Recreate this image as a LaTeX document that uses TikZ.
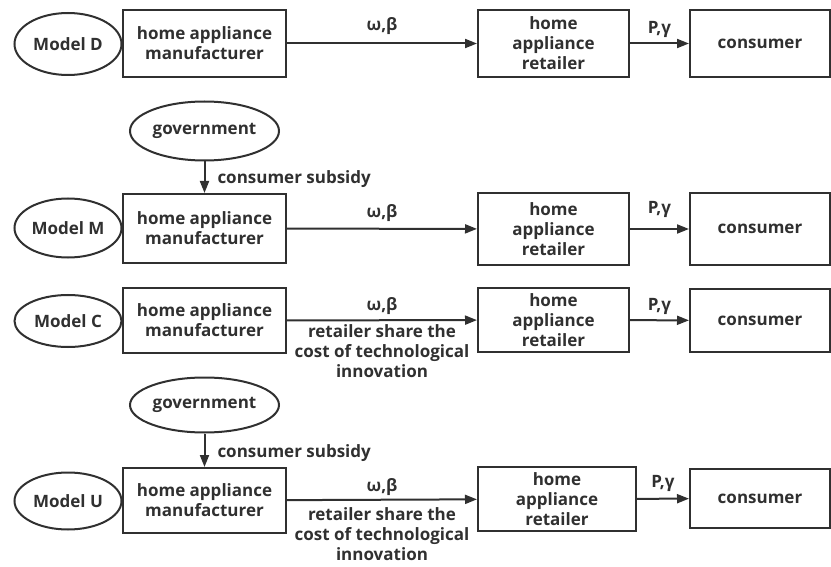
\documentclass[tikz,border=0pt]{standalone}
\usepackage{fontspec}
\setmainfont{Open Sans}
\usetikzlibrary{arrows.meta,shapes.geometric}
\definecolor{ink}{HTML}{303030}
\begin{document}
\begin{tikzpicture}[x=1pt,y=-1pt,
  line width=2pt, draw=ink, text=ink,
  every node/.style={text=ink, font=\bfseries\fontsize{17}{20}\selectfont},
  box/.style={draw=ink, rectangle, align=center, inner sep=0pt},
  oval/.style={draw=ink, ellipse, inner sep=0pt},
  arr/.style={draw=ink, -{Triangle[length=12pt,width=9pt]}},
  lab/.style={inner sep=0pt, align=center},
]
\useasboundingbox (0,0) rectangle (831,567);
% ---------- Model D ----------
\node[oval, minimum width=107pt, minimum height=62pt] (mD) at (68,44) {Model D};
\node[box, minimum width=163pt, minimum height=67pt] (fD) at (204.5,43.5) {home appliance\\manufacturer};
\node[box, minimum width=151pt, minimum height=67pt] (rD) at (553.5,43.5) {home\\appliance\\retailer};
\node[box, minimum width=140pt, minimum height=67pt] (cD) at (760,43.5) {consumer};
\draw[arr] (fD) -- node[lab, above=8pt] {ω,β} (rD);
\draw[arr] (rD) -- node[lab, above=5pt] {P,γ} (cD);
% ---------- Model M ----------
\node[oval, minimum width=149pt, minimum height=59pt] (gM) at (204.5,131) {government};
\node[oval, minimum width=107pt, minimum height=59pt] (mM) at (68,228) {Model M};
\node[box, minimum width=163pt, minimum height=69pt] (fM) at (204.5,228.5) {home appliance\\manufacturer};
\node[box, minimum width=151pt, minimum height=72pt] (rM) at (553.5,229) {home\\appliance\\retailer};
\node[box, minimum width=140pt, minimum height=72pt] (cM) at (760,229) {consumer};
\draw[arr] (gM) -- node[lab, right=12pt, yshift=-2pt] {consumer subsidy} (fM);
\draw[arr] (fM) -- node[lab, above=6pt] {ω,β} (rM);
\draw[arr] (rM) -- node[lab, above=10pt] {P,γ} (cM);
% ---------- Model C ----------
\node[oval, minimum width=107pt, minimum height=52pt] (mC) at (68,321) {Model C};
\node[box, minimum width=163pt, minimum height=65pt] (fC) at (204.5,320.5) {home appliance\\manufacturer};
\node[box, minimum width=151pt, minimum height=64pt] (rC) at (553.5,320) {home\\appliance\\retailer};
\node[box, minimum width=140pt, minimum height=63pt] (cC) at (760,320.5) {consumer};
\draw[arr] (fC) -- node[lab, above=5pt] {ω,β} node[lab, below=3pt] {retailer share the\\cost of technological\\innovation} (rC);
\draw[arr] (rC) -- node[lab, above=5pt] {P,γ} (cC);
% ---------- Model U ----------
\node[oval, minimum width=149pt, minimum height=55pt] (gU) at (204.5,405) {government};
\node[oval, minimum width=107pt, minimum height=57pt] (mU) at (68,501) {Model U};
\node[box, minimum width=163pt, minimum height=65pt] (fU) at (204.5,500.5) {home appliance\\manufacturer};
\node[box, minimum width=158pt, minimum height=64pt] (rU) at (557,499) {home\\appliance\\retailer};
\node[box, minimum width=140pt, minimum height=59pt] (cU) at (760,498.5) {consumer};
\draw[arr] (gU) -- node[lab, right=12pt, yshift=-3pt] {consumer subsidy} (fU);
\draw[arr] (fU) -- node[lab, above=3pt] {ω,β} node[lab, below=7pt] {retailer share the\\cost of technological\\innovation} (rU);
\draw[arr] (rU) -- node[lab, above=6pt] {P,γ} (cU);
\end{tikzpicture}
\end{document}
